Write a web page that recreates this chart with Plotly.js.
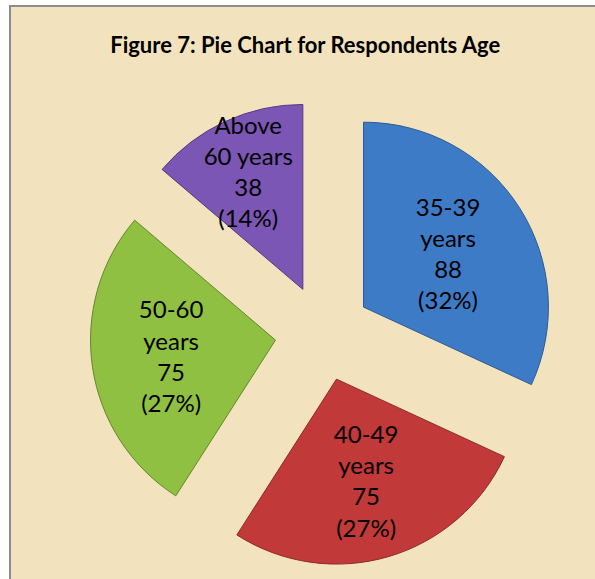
<!DOCTYPE html>
<html>
<head>
<meta charset="utf-8">
<script src="https://cdn.plot.ly/plotly-3.0.1.min.js"></script>
<style>
  html, body { margin: 0; padding: 0; background: #ffffff; }
  #frame {
    position: absolute; left: 9px; top: 5px; width: 600px; height: 590px;
    background: #f2e3be; border-top: 2px solid #8c8c8c; border-left: 2px solid #8c8c8c;
  }
  #chart { position: absolute; left: 0; top: 0; width: 595px; height: 579px; }
</style>
</head>
<body>
<div id="frame"></div>
<div id="chart"></div>
<script>
"use strict";

// age groups, counts of respondents
var ageGroups = ["35-39<br>years", "40-49<br>years", "50-60<br>years", "Above<br>60 years"];
var respondents = [88, 75, 75, 38];
var sliceColors = ["#3e7bc7", "#c13939", "#90c041", "#7b56b4"];
var edgeColors = ["#2d5a94", "#8e2828", "#62862a", "#543a80"];

var trace = {
    type: "pie",
    labels: ageGroups,
    values: respondents,
    sort: false,
    direction: "clockwise",
    rotation: 0,
    pull: 0.26,
    marker: { colors: sliceColors, line: { color: edgeColors, width: 1 } },
    texttemplate: "%{label}<br>%{value}<br>(%{percent:.0%})",
    textposition: "inside",
    insidetextorientation: "horizontal",
    insidetextfont: { family: "Lato, 'Open Sans', sans-serif", size: 24, color: "#000000" },
    hoverinfo: "label+value+percent",
    showlegend: false
};

var layout = {
    width: 595,
    height: 579,
    paper_bgcolor: "rgba(0,0,0,0)",
    plot_bgcolor: "rgba(0,0,0,0)",
    margin: { l: 90, r: 39, t: 100, b: 13 },
    uniformtext: { mode: "show", minsize: 24 },
    title: {
        text: "<b>Figure 7: Pie Chart for Respondents Age</b>",
        font: { family: "Lato, 'Open Sans', sans-serif", size: 22, color: "#000000" },
        xref: "container", x: 0.513,
        yref: "container", y: 0.922, yanchor: "middle"
    }
};

Plotly.newPlot("chart", [trace], layout, { displayModeBar: false, staticPlot: true });
</script>
</body>
</html>
